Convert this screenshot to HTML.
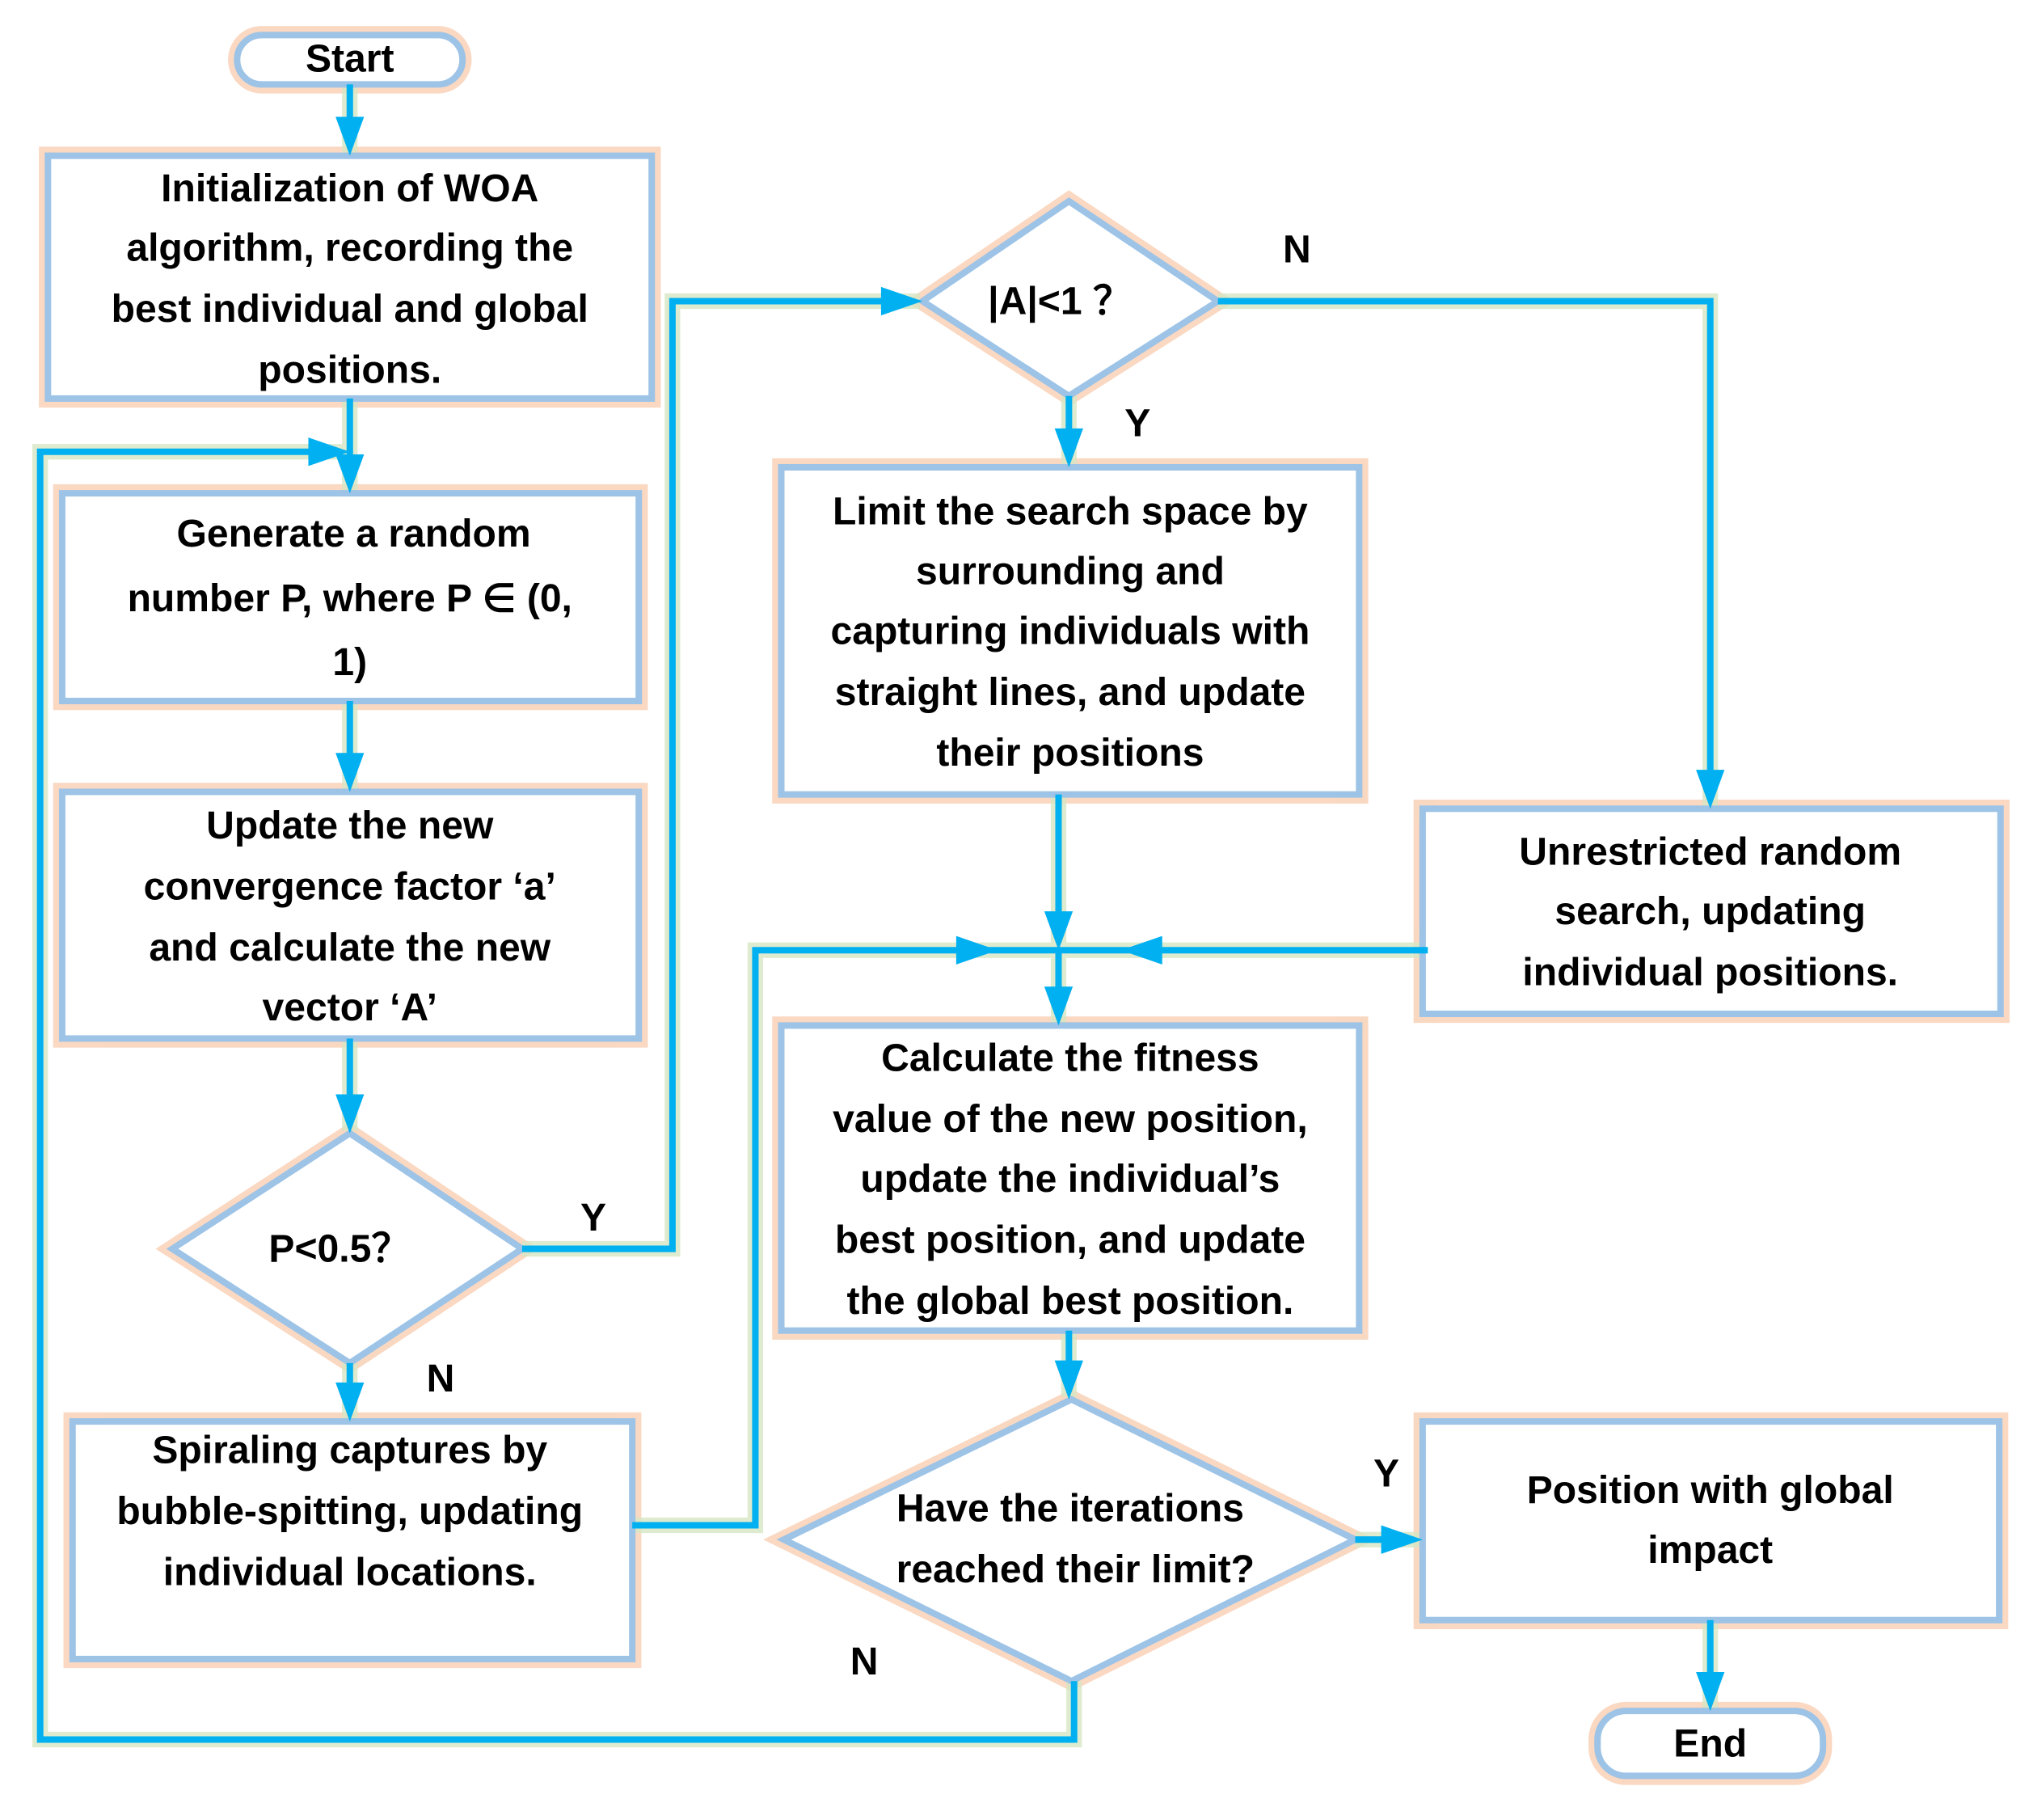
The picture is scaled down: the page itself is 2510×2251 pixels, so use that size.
<!DOCTYPE html>
<html><head><meta charset="utf-8"><style>
html,body{margin:0;padding:0;background:#fff}
svg{display:block}
text{font-family:"Liberation Sans",sans-serif;font-weight:bold;font-size:30px;fill:#000;text-anchor:middle;dominant-baseline:central}
.box{fill:#fff;stroke:#9dc3e6;stroke-width:5}
.glow{fill:none;stroke:#f8cbad;stroke-width:14;opacity:.75}
.ln{fill:none;stroke:#00b0f0;stroke-width:5;stroke-linejoin:miter}
.lg{fill:none;stroke:#d6e6c3;stroke-width:12;opacity:.8}
.ah{fill:#00b0f0}
</style></head><body>
<svg width="2510" height="2251" viewBox="0 0 1566 1402" preserveAspectRatio="none" xmlns="http://www.w3.org/2000/svg">
<g class="glow">
<rect x="183" y="27" width="174" height="38" rx="19"/>
<rect x="37" y="120" width="466" height="187"/>
<rect x="48" y="380" width="445" height="160"/>
<rect x="48" y="610" width="445" height="190"/>
<polygon points="270,873 403,962 270,1050 133,962"/>
<rect x="56" y="1095" width="432" height="183"/>
<polygon points="825,155 940,232 825,305 712,232"/>
<rect x="603" y="360" width="446" height="252"/>
<rect x="1098" y="623" width="446" height="158"/>
<rect x="603" y="790" width="446" height="235"/>
<polygon points="827,1078 1046,1186 827,1295 605,1186"/>
<rect x="1098" y="1095" width="445" height="153"/>
<rect x="1233" y="1318" width="174" height="50" rx="22"/>
</g>
<g class="lg">
<path d="M270 65V118M270 307V378M829 1295V1340H31V348H268M270 540V608M270 800V871M270 1050V1093M403 962H519V232H710M940 232H1320V621M825 305V358M817 612V732M1102 732H583V1175H488M817 732V788M825 1025V1076M1046 1186H1096M1320 1248V1316"/>
</g>
<rect class="box" x="183" y="27" width="174" height="38" rx="19"/>
<rect class="box" x="37" y="120" width="466" height="187"/>
<rect class="box" x="48" y="380" width="445" height="160"/>
<rect class="box" x="48" y="610" width="445" height="190"/>
<polygon class="box" points="270,873 403,962 270,1050 133,962"/>
<rect class="box" x="56" y="1095" width="432" height="183"/>
<polygon class="box" points="825,155 940,232 825,305 712,232"/>
<rect class="box" x="603" y="360" width="446" height="252"/>
<rect class="box" x="1098" y="623" width="446" height="158"/>
<rect class="box" x="603" y="790" width="446" height="235"/>
<polygon class="box" points="827,1078 1046,1186 827,1295 605,1186"/>
<rect class="box" x="1098" y="1095" width="445" height="153"/>
<rect class="box" x="1233" y="1318" width="174" height="50" rx="22"/>
<path class="ln" d="M270 65V100M270 307V360M829 1295V1340H31V348H250M270 540V590M270 800V853M270 1050V1075M403 962H519V232H690M940 232H1320V603M825 305V340M817 612V712M1102 732H583V1175H488M817 732V770M825 1025V1058M1046 1186H1078M1320 1248V1298"/>
<g class="ah">
<polygon points="259,90 281,90 270,120"/>
<polygon points="259,350 281,350 270,380"/>
<polygon points="238,337 238,359 270,348"/>
<polygon points="259,580 281,580 270,610"/>
<polygon points="259,843 281,843 270,873"/>
<polygon points="259,1065 281,1065 270,1095"/>
<polygon points="680,221 680,243 712,232"/>
<polygon points="1309,593 1331,593 1320,623"/>
<polygon points="814,330 836,330 825,360"/>
<polygon points="806,702 828,702 817,732"/>
<polygon points="897,721 897,743 865,732"/>
<polygon points="738,721 738,743 770,732"/>
<polygon points="806,760 828,760 817,790"/>
<polygon points="814,1048 836,1048 825,1078"/>
<polygon points="1066,1175 1066,1197 1098,1186"/>
<polygon points="1309,1288 1331,1288 1320,1318"/>
</g>
<text x="270" y="45">Start</text>
<text x="270" y="145">Initialization of WOA</text>
<text x="270" y="191">algorithm, recording the</text>
<text x="270" y="238">best individual and global</text>
<text x="270" y="285">positions.</text>
<text x="273" y="411">Generate a random</text>
<text x="270" y="461">number P, where P ∈ (0,</text>
<text x="270" y="510">1)</text>
<text x="270" y="636">Update the new</text>
<text x="270" y="683">convergence factor ‘a’</text>
<text x="270" y="730">and calculate the new</text>
<text x="270" y="776">vector ‘A’</text>
<text x="262" y="962">P&lt;0.5？</text>
<text x="270" y="1117">Spiraling captures by</text>
<text x="270" y="1164">bubble-spitting, updating</text>
<text x="270" y="1211">individual locations.</text>
<text x="818" y="232">|A|&lt;1 ？</text>
<text x="826" y="394">Limit the search space by</text>
<text x="826" y="440">surrounding and</text>
<text x="826" y="486">capturing individuals with</text>
<text x="826" y="533">straight lines, and update</text>
<text x="826" y="580">their positions</text>
<text x="1320" y="656">Unrestricted random</text>
<text x="1320" y="702">search, updating</text>
<text x="1320" y="749">individual positions.</text>
<text x="826" y="815">Calculate the fitness</text>
<text x="826" y="862">value of the new position,</text>
<text x="826" y="908">update the individual’s</text>
<text x="826" y="955">best position, and update</text>
<text x="826" y="1002">the global best position.</text>
<text x="826" y="1162">Have the iterations</text>
<text x="830" y="1209">reached their limit?</text>
<text x="1320" y="1148">Position with global</text>
<text x="1320" y="1194">impact</text>
<text x="1320" y="1343">End</text>
<text x="458" y="938">Y</text>
<text x="340" y="1062">N</text>
<text x="1001" y="192">N</text>
<text x="878" y="326">Y</text>
<text x="1070" y="1135">Y</text>
<text x="667" y="1280">N</text>
</svg>
</body></html>
